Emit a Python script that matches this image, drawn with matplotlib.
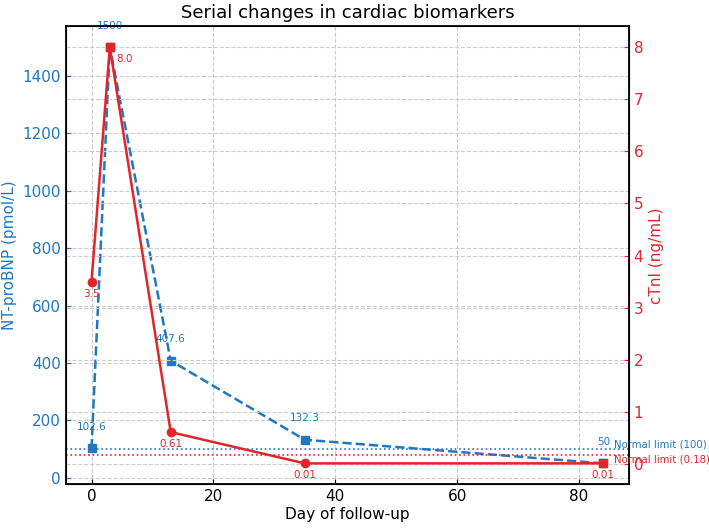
import matplotlib.pyplot as plt

days = [0, 3, 13, 35, 84]
ntprobnp = [102.6, 1500, 407.6, 132.3, 50]
ctni = [3.5, 8.0, 0.61, 0.01, 0.01]
ctni_labels = ['3.5', '8.0', '0.61', '0.01', '0.01']
ctni_markers = ['o', 's', 'o', 'o', 's']
bnp_limit = 100
ctni_limit = 0.18

blue = '#1f78c1'
red = '#e0262b'

fig, ax1 = plt.subplots(figsize=(7.09, 5.28), dpi=100)
ax2 = ax1.twinx()

# NT-proBNP on left axis
ax1.plot(days, ntprobnp, '--s', color=blue, lw=1.8, ms=6)
for d, v in zip(days, ntprobnp):
    ax1.annotate(f'{v:g}', (d, v), xytext=(0, 12), textcoords='offset points',
                 ha='center', va='bottom', color=blue, fontsize=7.5)
ax1.axhline(bnp_limit, color=blue, ls=':', lw=1.2)

# cTnI on right axis
ax2.plot(days, ctni, '-', color=red, lw=1.8)
for d, v, m in zip(days, ctni, ctni_markers):
    ax2.plot(d, v, m, color=red, ms=6)
for i, (d, v) in enumerate(zip(days, ctni)):
    if i == 1:
        ax2.annotate(ctni_labels[i], (d, v), xytext=(5, -5), textcoords='offset points',
                     ha='left', va='top', color=red, fontsize=7.5)
    else:
        ax2.annotate(ctni_labels[i], (d, v), xytext=(0, -5), textcoords='offset points',
                     ha='center', va='top', color=red, fontsize=7.5)
ax2.axhline(ctni_limit, color=red, ls=':', lw=1.2)

# limit labels just right of the last point
ax1.text(days[-1] + 1.8, bnp_limit, 'Normal limit (100)', color=blue,
         fontsize=7.3, ha='left', va='bottom')
ax2.text(days[-1] + 1.8, ctni_limit, 'Normal limit (0.18)', color=red,
         fontsize=7.3, ha='left', va='top')

ax1.grid(True, ls='--', color='#cccccc', lw=0.8)
ax2.grid(True, ls='--', color='#cccccc', lw=0.8)

ax1.set_xlabel('Day of follow-up', fontsize=11, labelpad=2)
ax1.set_ylabel('NT-proBNP (pmol/L)', color=blue, fontsize=11)
ax2.set_ylabel('cTnI (ng/mL)', color=red, fontsize=11)
ax1.tick_params(axis='y', colors=blue, labelsize=11, direction='in')
ax1.tick_params(axis='x', labelsize=11, direction='in')
ax2.tick_params(axis='y', colors=red, labelsize=11, direction='in')
for sp in ax2.spines.values():
    sp.set_linewidth(1.3)

ax1.set_title('Serial changes in cardiac biomarkers', fontsize=13)

fig.subplots_adjust(left=0.093, right=0.887, top=0.95, bottom=0.083)
fig.savefig('out.png')
